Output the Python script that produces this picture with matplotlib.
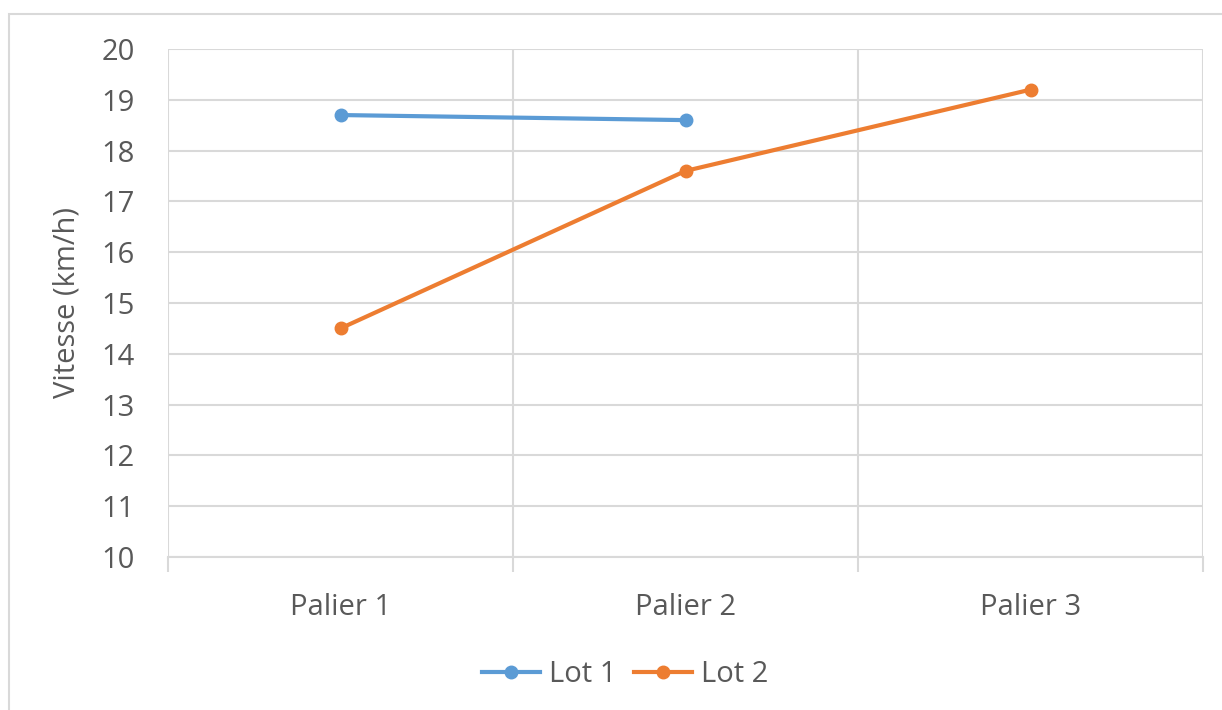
import matplotlib.pyplot as plt
import numpy as np
from matplotlib.patches import Rectangle

categories = ["Palier 1", "Palier 2", "Palier 3"]
lot1 = [18.7, 18.6, np.nan]
lot2 = [14.5, 17.6, 19.2]
series_labels = ["Lot 1", "Lot 2"]

plt.rcParams['font.family'] = ['Open Sans', 'DejaVu Sans']
text_color = "#595959"
grid_color = "#D9D9D9"

W, H = 1222, 710
fig = plt.figure(figsize=(W / 100, H / 100), dpi=100)
ax = fig.add_axes([168 / W, 1 - 557 / H, (1203 - 168) / W, (557 - 49) / H])

# chart border (cut off at right and bottom)
fig.patches.append(Rectangle((9 / W, -0.05), 1.1, 1 - 14 / H + 0.05,
                             transform=fig.transFigure, fill=False,
                             edgecolor=grid_color, linewidth=1.5))

x = np.arange(len(categories))
ax.plot(x, lot1, color="#5B9BD5", lw=3, marker="o", ms=9, label=series_labels[0])
ax.plot(x, lot2, color="#ED7D31", lw=3, marker="o", ms=9, label=series_labels[1])

ax.set_xlim(-0.5, 2.5)
ax.set_ylim(10, 20)
ax.set_yticks(range(10, 21))
ax.set_xticks(x)
ax.set_xticklabels(categories)
ax.set_xticks([-0.5, 0.5, 1.5, 2.5], minor=True)
ax.grid(axis="y", color=grid_color, lw=1.5)
ax.grid(axis="x", which="minor", color=grid_color, lw=1.5)
ax.set_axisbelow(True)

for s in ["top", "right", "left"]:
    ax.spines[s].set_visible(False)
ax.spines["bottom"].set_color(grid_color)
ax.spines["bottom"].set_linewidth(1.5)

ax.tick_params(axis="y", length=0, labelsize=21, colors=text_color, pad=36)
ax.tick_params(axis="x", which="major", length=0, labelsize=21, colors=text_color, pad=26)
ax.tick_params(axis="x", which="minor", length=11, width=1.5, color=grid_color)
for t in ax.get_yticklabels():
    t.set_horizontalalignment("center")

ax.set_ylabel("Vitesse (km/h)", fontsize=21, color=text_color, labelpad=14)

leg = fig.legend(loc="center", bbox_to_anchor=(625 / W, 1 - 675 / H), ncol=2,
                 frameon=False, fontsize=21, handlelength=2.0, columnspacing=0.6,
                 handletextpad=0.3)
for t in leg.get_texts():
    t.set_color(text_color)

fig.savefig("out.png", dpi=100)
